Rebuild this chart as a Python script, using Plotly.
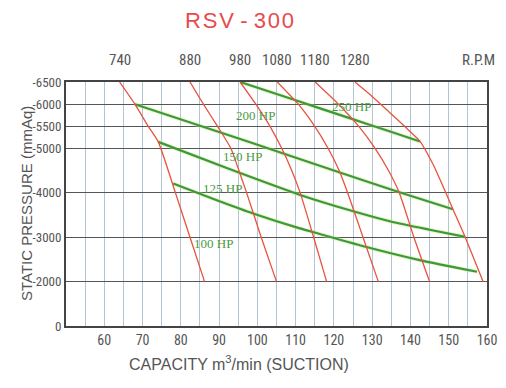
import plotly.graph_objects as go

# ---------------- data ----------------
rpm_labels = ["740", "880", "980", "1080", "1180", "1280"]

cap_740 = [64.0, 68.0, 71.5, 74.1, 78.6, 82.4, 86.2]
sp_740 = [-6500, -6000, -5500, -5150, -4000, -3000, -2000]

cap_880 = [82.4, 85.9, 89.6, 93.1, 95.2, 97.2, 101.0, 105.0]
sp_880 = [-6500, -6000, -5500, -5000, -4500, -4000, -3000, -2000]

cap_980 = [95.5, 99.6, 103.3, 106.4, 109.0, 111.2, 114.7, 118.1]
sp_980 = [-6500, -6000, -5500, -5000, -4500, -4000, -3000, -2000]

cap_1080 = [105.2, 110.7, 115.0, 118.5, 121.4, 123.6, 127.6, 131.6]
sp_1080 = [-6500, -6000, -5500, -5000, -4500, -4000, -3000, -2000]

cap_1180 = [115.1, 121.2, 126.5, 130.8, 134.3, 137.1, 140.9, 145.0]
sp_1180 = [-6500, -6000, -5500, -5000, -4500, -4000, -3000, -2000]

cap_1280 = [125.5, 130.0, 134.4, 138.6, 142.5, 145.9, 148.5, 151.1, 154.3, 156.6, 159.0]
sp_1280 = [-6500, -6175, -5826, -5489, -5163, -4645, -4150, -3633, -3003, -2508, -2000]

# power lines (green)
pw1_cap = [95.5, 110.0, 124.5, 134.7, 142.5]
pw1_sp = [-6500, -6087, -5674, -5383, -5160]
pw2_cap = [68.0, 98.1, 119.8, 137.3, 151.1]
pw2_sp = [-6000, -5140, -4510, -4010, -3633]
pw3_cap = [74.1, 92.0, 111.0, 125.3, 135.1, 145.0, 154.3]
pw3_sp = [-5150, -4560, -3960, -3580, -3350, -3170, -3010]
pw4_cap = [78.0, 89.4, 98.9, 111.1, 116.3, 128.5, 142.4, 157.4]
pw4_sp = [-4210, -3835, -3536, -3200, -3075, -2780, -2485, -2222]

hp_labels = ["250 HP", "200 HP", "150 HP", "125 HP", "100 HP"]
hp_label_cap = [124.5, 99.4, 96.1, 90.9, 88.5]
hp_label_sp = [-5950, -5747, -4810, -4098, -2860]

x_ticks = [60, 70, 80, 90, 100, 110, 120, 130, 140, 150, 160]
y_ticks = [-1000, -2000, -3000, -4000, -5000, -5500, -6000, -6500]
y_ticktext = ["0", "-2000", "-3000", "-4000", "-5000", "-5500", "-6000", "-6500"]

# ---------------- figure ----------------
RED = "#e8533f"
GREEN = "#3d983c"
GRAY = "#555555"
NARROW = "Liberation Sans Narrow, Roboto Condensed, DejaVu Sans Condensed, Liberation Sans, Arial"

fig = go.Figure()

power_lines = [(pw1_cap, pw1_sp), (pw2_cap, pw2_sp), (pw3_cap, pw3_sp), (pw4_cap, pw4_sp)]
for cx, sy in power_lines:
    fig.add_trace(go.Scatter(x=cx, y=sy, mode="lines",
                             line=dict(color="rgba(200,235,130,0.45)", width=4, shape="spline", smoothing=0.6),
                             hoverinfo="skip", showlegend=False))
    fig.add_trace(go.Scatter(x=cx, y=sy, mode="lines",
                             line=dict(color=GREEN, width=2.2, shape="spline", smoothing=0.6),
                             showlegend=False))

curves = [(cap_740, sp_740), (cap_880, sp_880), (cap_980, sp_980),
          (cap_1080, sp_1080), (cap_1180, sp_1180), (cap_1280, sp_1280)]
for (cx, sy), lab in zip(curves, rpm_labels):
    fig.add_trace(go.Scatter(x=cx, y=sy, mode="lines", name=lab + " RPM",
                             line=dict(color=RED, width=1.3, shape="spline", smoothing=0.6),
                             showlegend=False))

annotations = []
for (cx, sy), lab in zip(curves, rpm_labels):
    annotations.append(dict(x=cx[0], y=1.09, xref="x", yref="paper", text=lab,
                            xanchor="center", yanchor="middle", showarrow=False,
                            font=dict(family=NARROW, size=15, color=GRAY)))
annotations.append(dict(x=157.7, y=1.09, xref="x", yref="paper", text="R.P.M",
                        xanchor="center", yanchor="middle", showarrow=False,
                        font=dict(family=NARROW, size=15, color=GRAY)))

for t, cx, sy in zip(hp_labels, hp_label_cap, hp_label_sp):
    annotations.append(dict(x=cx, y=sy, xref="x", yref="y", text=t, showarrow=False,
                            xanchor="center", yanchor="middle",
                            font=dict(family="Liberation Serif, DejaVu Serif, serif", size=13, color="#4a9a3e")))

annotations.append(dict(x=0.411, y=1.254, xref="paper", yref="paper",
                        text="R\u200aS\u200aV\u200a\u2009-\u2009\u200a3\u200a0\u200a0",
                        xanchor="center", yanchor="middle", showarrow=False,
                        font=dict(family="Liberation Sans, Arial", size=22, color="#e84a4c")))
annotations.append(dict(x=-0.095, y=0.5, xref="paper", yref="paper", textangle=-90,
                        text="STATIC PRESSURE (mmAq)", showarrow=False,
                        xanchor="center", yanchor="middle",
                        font=dict(family="Liberation Sans, Arial", size=15, color=GRAY)))
annotations.append(dict(x=0.41, y=-0.152, xref="paper", yref="paper",
                        text="CAPACITY m<sup>3</sup>/min (SUCTION)", showarrow=False,
                        xanchor="center", yanchor="middle",
                        font=dict(family="Liberation Sans, Arial", size=16, color=GRAY)))

# page body has an 8px margin: size the figure so the plot lands where the reference has it
fig.update_layout(
    width=490, height=372,
    margin=dict(l=58, r=11, t=74, b=54),
    paper_bgcolor="white", plot_bgcolor="white",
    annotations=annotations,
    showlegend=False,
)
fig.update_xaxes(range=[50, 160], tickvals=x_ticks, showgrid=True, gridcolor="#b4c6d4", gridwidth=1,
                 minor=dict(dtick=5, tick0=50, showgrid=True, gridcolor="#b4c6d4", gridwidth=1),
                 showline=True, mirror=True, linecolor="#444", linewidth=2,
                 ticks="", zeroline=False, automargin=False,
                 tickfont=dict(family=NARROW, size=14, color=GRAY))
fig.update_yaxes(range=[-1000, -6500], tickvals=y_ticks, ticktext=y_ticktext,
                 showgrid=True, gridcolor="#555", gridwidth=1.4,
                 showline=True, mirror=True, linecolor="#444", linewidth=2,
                 ticks="", zeroline=False, automargin=False,
                 tickfont=dict(family=NARROW, size=13, color=GRAY))

fig.write_html("out.html")
